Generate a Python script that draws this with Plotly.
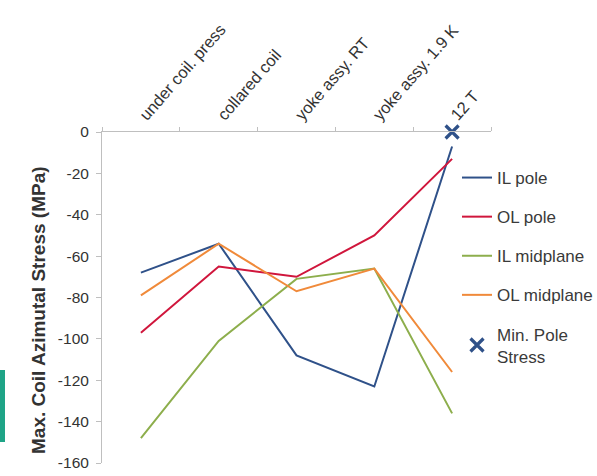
import plotly.graph_objects as go

# Assembly / powering stages along the x axis
stages = ["under coil. press", "collared coil", "yoke assy. RT", "yoke assy. 1.9 K", "12 T"]

# Maximum coil azimuthal stress per location (MPa)
il_pole = [-68, -54, -108, -123, -7]
ol_pole = [-97, -65, -70, -50, -13]
il_midplane = [-148, -101, -71, -66, -136]
ol_midplane = [-79, -54, -77, -66, -116]

# Minimum pole stress marker at 12 T
min_pole_stage = ["12 T"]
min_pole_stress = [0]

# Stress axis ticks (hyphen minus, as in the original labels)
y_ticks = [0, -20, -40, -60, -80, -100, -120, -140, -160]
y_tick_text = [str(v) for v in y_ticks]

FONT = "Liberation Sans, Arial, sans-serif"

series = [
    ("IL pole", il_pole, "#2F5189"),
    ("OL pole", ol_pole, "#D0163C"),
    ("IL midplane", il_midplane, "#8DAE4C"),
    ("OL midplane", ol_midplane, "#F08A3A"),
]

fig = go.Figure()
for i, (name, vals, color) in enumerate(series):
    fig.add_trace(go.Scatter(
        x=stages, y=vals, name=name, mode="lines",
        line=dict(color=color, width=2),
        legendgroup=f"g{i}",
    ))

fig.add_trace(go.Scatter(
    x=min_pole_stage, y=min_pole_stress, name="Min. Pole<br>Stress",
    mode="markers", legendgroup="g4",
    marker=dict(symbol="x-thin", size=13, color="#2F5189",
                line=dict(color="#2F5189", width=3.2)),
    cliponaxis=False,
))

fig.update_layout(
    width=597, height=476,
    margin=dict(l=102, r=106, t=132, b=13, autoexpand=False),
    paper_bgcolor="white", plot_bgcolor="white",
    font=dict(family=FONT, size=15, color="#3a3a3a"),
    showlegend=True,
    legend=dict(
        xref="container", yref="container",
        x=457 / 597, xanchor="left", y=1 - 160 / 476, yanchor="top",
        font=dict(family=FONT, size=17, color="#3a3a3a"),
        itemwidth=30, tracegroupgap=14,
        bgcolor="rgba(0,0,0,0)",
    ),
    xaxis=dict(
        type="category", side="top", range=[-0.5, 4.5],
        tickson="boundaries", ticks="outside", ticklen=4, tickcolor="#bfbfbf",
        showline=True, linecolor="#bfbfbf", linewidth=1,
        showgrid=False, zeroline=False,
        tickangle=-49, tickfont=dict(family=FONT, size=16.5, color="#333333"),
    ),
    yaxis=dict(
        range=[-160, 0], tickmode="array", tickvals=y_ticks, ticktext=y_tick_text,
        ticks="outside", ticklen=5, tickcolor="#bfbfbf", ticklabelstandoff=4,
        showline=True, linecolor="#bfbfbf", linewidth=1,
        showgrid=False, zeroline=False,
        tickfont=dict(family=FONT, size=15.5, color="#333333"),
    ),
    annotations=[dict(
        text="<b>Max. Coil Azimutal Stress (MPa)</b>",
        xref="paper", yref="paper",
        x=(38 - 102) / 389, y=(463 - 310) / 331,
        xanchor="center", yanchor="middle", textangle=-90, showarrow=False,
        font=dict(family=FONT, size=19, color="#333333"),
    )],
    shapes=[dict(
        type="rect", xref="paper", yref="paper",
        x0=-102 / 389, x1=-97 / 389, y0=(463 - 442) / 331, y1=(463 - 370) / 331,
        fillcolor="#1FA487", line=dict(width=0), layer="below",
    )],
)

fig.write_html("out.html")
